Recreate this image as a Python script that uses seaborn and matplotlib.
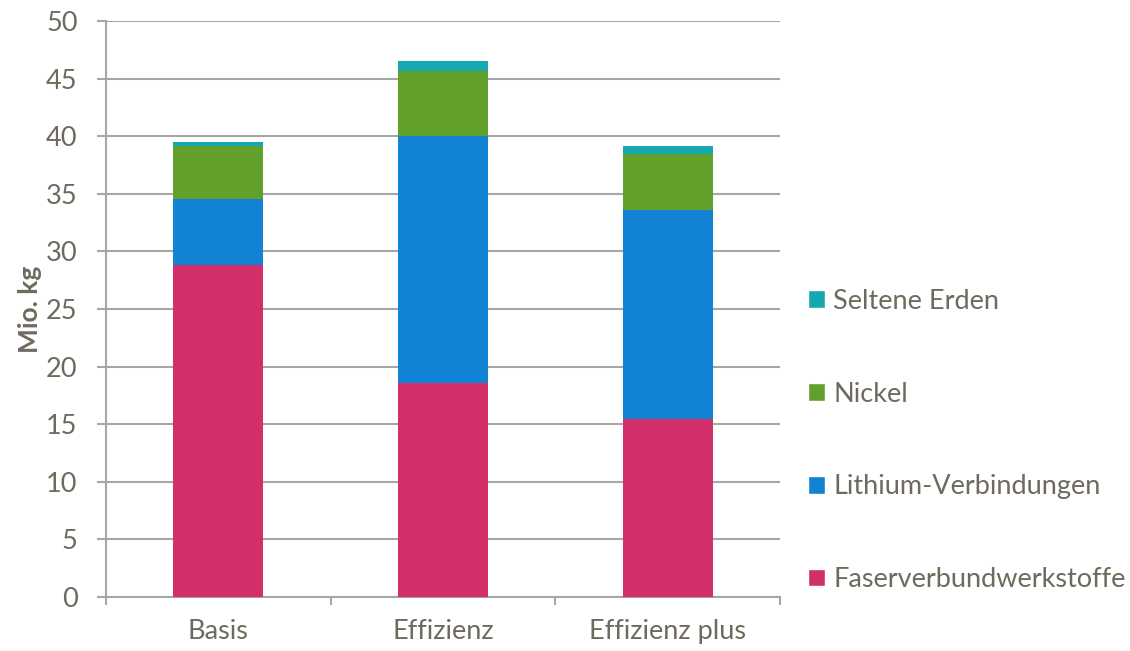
import numpy as np
import pandas as pd
import matplotlib.pyplot as plt
import seaborn as sns
from matplotlib.patches import Patch

# Werte (Mio. kg)
szenarien = ["Basis", "Effizienz", "Effizienz plus"]
faser = [28.8, 18.6, 15.45]
lithium = [5.75, 21.4, 18.15]
nickel = [4.6, 5.7, 4.85]
seltene = [0.35, 0.85, 0.7]

komponenten = ["Faserverbundwerkstoffe", "Lithium-Verbindungen", "Nickel", "Seltene Erden"]
farben = ["#D22E6A", "#1283D4", "#62A02C", "#16A8B0"]
textfarbe = "#6E6A5E"
gitterfarbe = "#A6A6A6"

df = pd.DataFrame({"Szenario": szenarien, komponenten[0]: faser, komponenten[1]: lithium,
                   komponenten[2]: nickel, komponenten[3]: seltene})
kum = df[komponenten].cumsum(axis=1)
kum["Szenario"] = df["Szenario"]

sns.set_style("white")
plt.rcParams["font.family"] = ["Lato", "DejaVu Sans"]

fig = plt.figure(figsize=(11.3, 6.51), dpi=100)
ax = fig.add_axes([106 / 1130, 54 / 651, (780 - 106) / 1130, (597 - 21) / 651])

# gestapelte Balken: von oben nach unten überlagern
for komp, farbe in reversed(list(zip(komponenten, farben))):
    sns.barplot(data=kum, x="Szenario", y=komp, color=farbe, width=0.4,
                saturation=1, ax=ax, zorder=3, edgecolor="none")

ax.set_ylim(0, 50)
ax.set_xlim(-0.5, 2.5)
ax.set_yticks(np.arange(0, 51, 5))
ax.yaxis.grid(True, color=gitterfarbe, linewidth=1.5, zorder=0)
ax.set_axisbelow(True)
for s in ["top", "right"]:
    ax.spines[s].set_visible(False)
for s in ["left", "bottom"]:
    ax.spines[s].set_color(gitterfarbe)
    ax.spines[s].set_linewidth(1.5)

ax.tick_params(axis="y", length=6.5, width=1.5, color=gitterfarbe, labelcolor=textfarbe,
               labelsize=19.5, pad=14, direction="out", left=True)
ax.set_xticks([0, 1, 2])
ax.set_xticklabels(szenarien)
ax.set_xticks([-0.5, 0.5, 1.5, 2.5], minor=True)
ax.tick_params(axis="x", which="major", length=0, labelcolor=textfarbe, labelsize=19.5, pad=16)
ax.tick_params(axis="x", which="minor", length=6, width=1.5, color=gitterfarbe,
               direction="out", bottom=True)
ax.set_xlabel("")
ax.set_ylabel("Mio. kg", color=textfarbe, fontsize=19, fontweight="bold", labelpad=3)

handles = [Patch(facecolor=f, label=k) for k, f in zip(komponenten, farben)][::-1]
fig.legend(handles=handles, loc="upper left", bbox_to_anchor=(797 / 1130, 1 - 278 / 651),
           frameon=False, fontsize=19.5, labelcolor=textfarbe, handlelength=0.63,
           handleheight=0.63, handletextpad=0.3, labelspacing=2.5, borderaxespad=0)

fig.savefig("out.png", dpi=100)
